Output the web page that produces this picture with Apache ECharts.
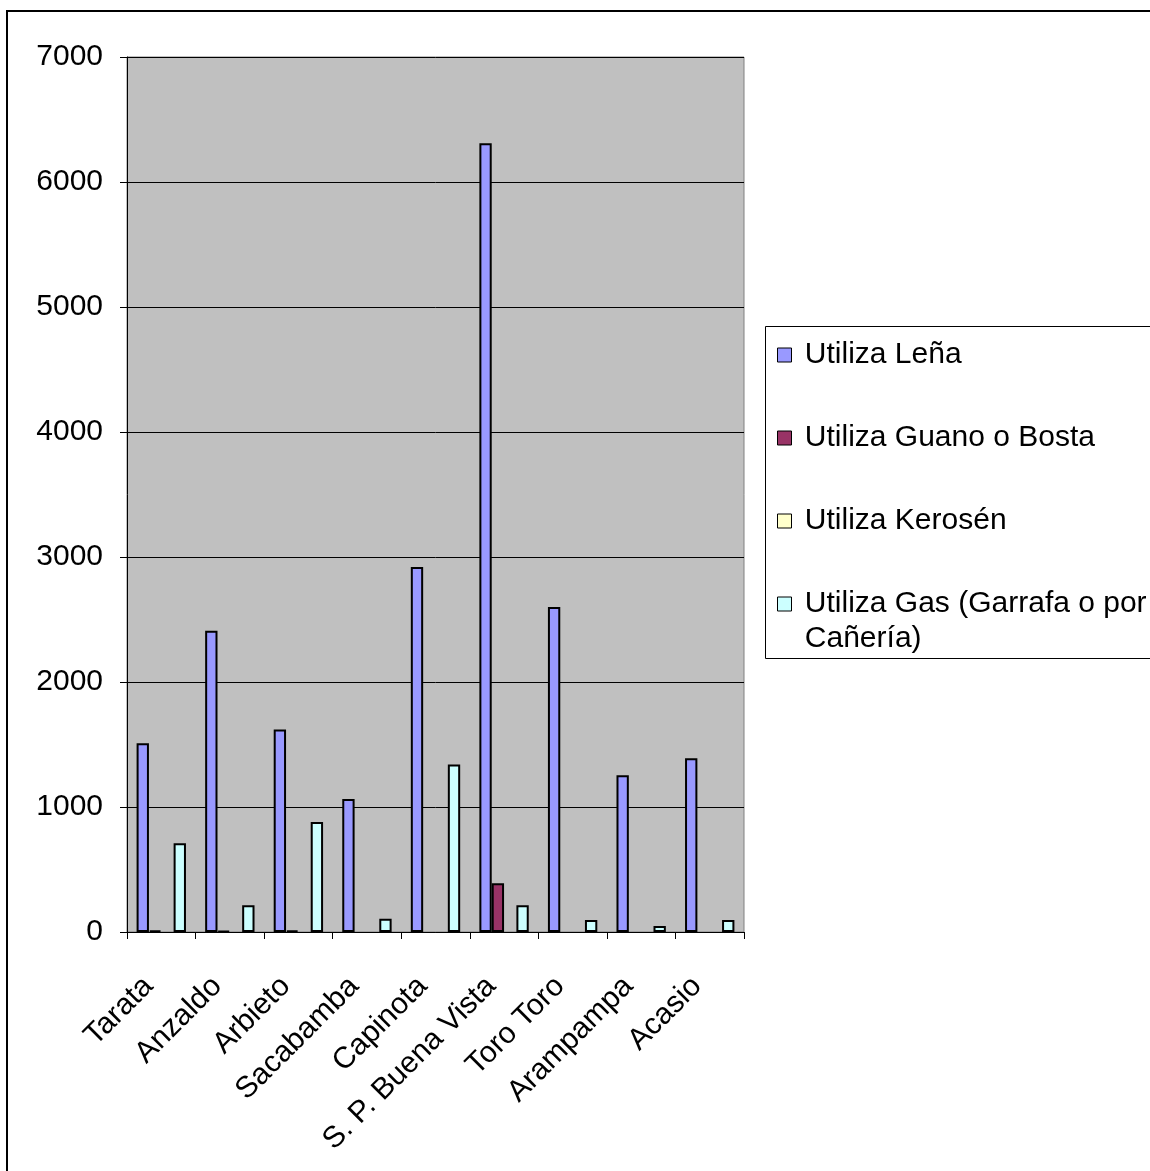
<!DOCTYPE html>
<html>
<head>
<meta charset="utf-8">
<script src="https://cdn.jsdelivr.net/npm/echarts@6/dist/echarts.min.js"></script>
<style>
  html, body { margin: 0; padding: 0; background: #ffffff; }
  #chart { width: 1150px; height: 1171px; }
</style>
</head>
<body>
<div id="chart"></div>
<script>
// Municipios
const categories = ['Tarata', 'Anzaldo', 'Arbieto', 'Sacabamba', 'Capinota',
  'S. P. Buena Vista', 'Toro Toro', 'Arampampa', 'Acasio'];

// Hogares según combustible utilizado
const lena     = [1510, 2410, 1620, 1065, 2920, 6310, 2600, 1255, 1390];
const guano    = [12, 10, 12, 0, 0, 390, 0, 0, 0];
const kerosen  = [0, 0, 0, 0, 0, 0, 0, 0, 0];
const gas      = [710, 215, 880, 107, 1340, 215, 96, 48, 96];

// Eje de valores
const yTicks = [0, 1000, 2000, 3000, 4000, 5000, 6000, 7000];

const seriesNames = ['Utiliza Leña', 'Utiliza Guano o Bosta', 'Utiliza Kerosén',
  'Utiliza Gas (Garrafa o por Cañería)'];
const seriesColors = ['#9999FF', '#993366', '#FFFFCC', '#CCFFFF'];
const seriesData = [lena, guano, kerosen, gas];

const FONT = "'Liberation Sans', Arial, sans-serif";

const chart = echarts.init(document.getElementById('chart'), null, { renderer: 'canvas' });

// Zero values draw no bar at all
function toBarData(arr) {
  return arr.map(v => v === 0 ? { value: 0, itemStyle: { borderWidth: 0, opacity: 0 } } : v);
}

const series = seriesNames.map((name, i) => ({
  name: name,
  type: 'bar',
  data: toBarData(seriesData[i]),
  barGap: '0%',
  barCategoryGap: '28%',
  itemStyle: { color: seriesColors[i], borderColor: '#000000', borderWidth: 2 },
  emphasis: { disabled: true },
  animation: false
}));

// One legend block per entry, stacked inside a common frame
const legendCenters = [355, 438, 521, 604];
const legendLineHeight = 35;
const legends = seriesNames.map((name, i) => {
  const multi = i === 3;
  const top = multi
    ? legendCenters[i] - (3 * legendLineHeight) / 2
    : legendCenters[i] - legendLineHeight / 2;
  return {
    data: [name],
    left: 777,
    top: top,
    padding: 0,
    orient: 'vertical',
    itemWidth: 14,
    itemHeight: 14,
    icon: 'rect',
    itemStyle: { borderColor: '#000000', borderWidth: 1 },
    textStyle: { fontSize: 30, fontFamily: FONT, color: '#000000', lineHeight: legendLineHeight },
    formatter: multi
      ? () => '\n Utiliza Gas (Garrafa o por\n Cañería)'
      : n => ' ' + n,
    selectedMode: false
  };
});

chart.setOption({
  backgroundColor: '#ffffff',
  animation: false,
  textStyle: { fontFamily: FONT },
  grid: {
    left: 127, top: 57, width: 617, height: 875,
    show: true, backgroundColor: '#C0C0C0', borderColor: '#808080', borderWidth: 1,
    containLabel: false
  },
  legend: legends,
  xAxis: {
    type: 'category',
    data: categories,
    boundaryGap: true,
    axisLine: { lineStyle: { color: '#000000', width: 1 } },
    axisTick: { show: true, length: 7, alignWithLabel: false, lineStyle: { color: '#000000' } },
    axisLabel: {
      interval: 0, rotate: 45, margin: 37, padding: [0, 18, 0, 0],
      fontSize: 30, fontFamily: FONT, color: '#000000'
    },
    splitLine: { show: false }
  },
  yAxis: {
    type: 'value',
    min: yTicks[0],
    max: yTicks[yTicks.length - 1],
    interval: yTicks[1] - yTicks[0],
    axisLine: { show: true, lineStyle: { color: '#000000', width: 1 } },
    axisTick: { show: true, length: 7, lineStyle: { color: '#000000' } },
    axisLabel: {
      fontSize: 30, fontFamily: FONT, color: '#000000', margin: 24,
      formatter: v => String(v)
    },
    splitLine: { show: true, lineStyle: { color: '#000000', width: 1 } }
  },
  series: series,
  graphic: [
    // outer chart frame
    { type: 'rect', z: 100, silent: true,
      shape: { x: 7, y: 11, width: 1200, height: 1200 },
      style: { fill: null, stroke: '#000000', lineWidth: 2 } },
    // legend frame
    { type: 'rect', z: 100, silent: true,
      shape: { x: 765.5, y: 326.5, width: 420, height: 332 },
      style: { fill: null, stroke: '#000000', lineWidth: 1 } }
  ]
});
</script>
</body>
</html>
